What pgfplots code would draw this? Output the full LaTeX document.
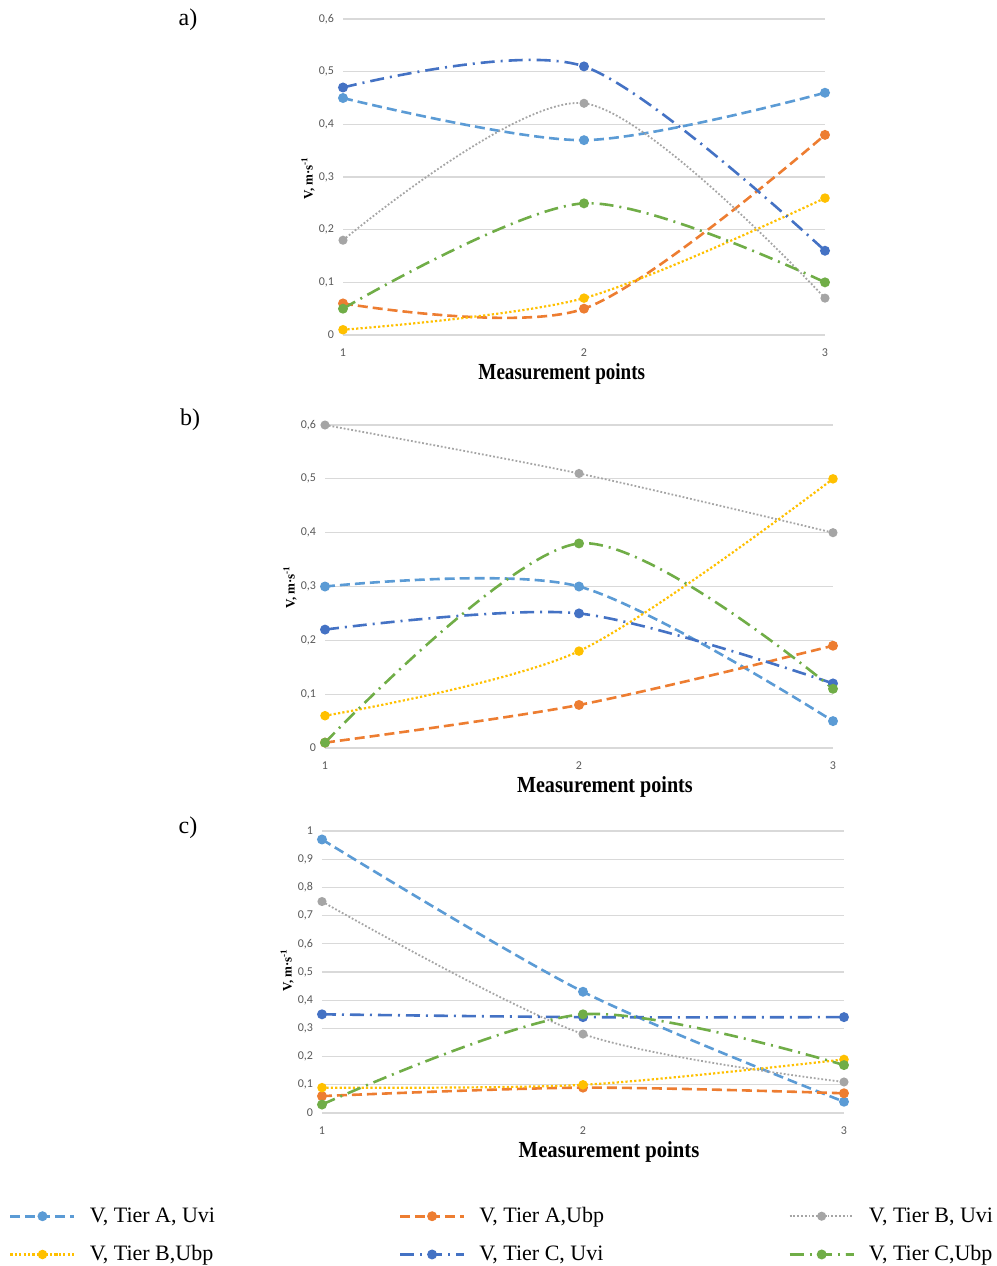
\documentclass[border=0pt]{standalone}
\usepackage{fontspec}
\setmainfont{Liberation Serif}
\newfontfamily\tickfont{Carlito}
\usepackage{graphicx}
\usepackage{pgfplots}
\pgfplotsset{compat=1.18}
\definecolor{cAU}{HTML}{5B9BD5}
\definecolor{cAB}{HTML}{ED7D31}
\definecolor{cBU}{HTML}{A5A5A5}
\definecolor{cBB}{HTML}{FFC000}
\definecolor{cCU}{HTML}{4472C4}
\definecolor{cCB}{HTML}{70AD47}
\pgfplotsset{
  panel/.style={
    scale only axis, clip=false,
    xmin=1, xmax=3, ymin=0, xtick={1,2,3},
    ymajorgrids, grid style={draw=black!15, line width=0.6pt},
    axis line style={draw=none}, tick style={draw=none},
    ticklabel style={font=\tickfont\fontsize{6}{7}\selectfont, text=black!65},
    /pgf/number format/use comma,
    /pgf/number format/assume math mode=true,
    xticklabel style={yshift=-3.5pt},
    yticklabel style={xshift=-1pt},
    xlabel style={font=\bfseries\fontsize{11.5}{12}\selectfont, anchor=center, yshift=-19.5pt},
    ylabel={V, m·s\textsuperscript{-1}},
    ylabel style={font=\bfseries\fontsize{6.5}{7}\selectfont, anchor=center},
    legend image code/.code={\draw[##1, mark repeat=2, mark phase=2] plot coordinates {(0pt,0pt) (16pt,0pt) (32pt,0pt)};},
  },
  sAU/.style={color=cAU, line width=1.3pt, dash pattern=on 5pt off 2.5pt, smooth, mark=*, mark size=1.8pt, mark options={solid}},
  sAB/.style={color=cAB, line width=1.3pt, dash pattern=on 5pt off 2.5pt, smooth, mark=*, mark size=1.8pt, mark options={solid}},
  sBU/.style={color=cBU, line width=0.9pt, dash pattern=on 0.9pt off 1pt, smooth, mark=*, mark size=1.8pt, mark options={solid}},
  sBB/.style={color=cBB, line width=1.1pt, dash pattern=on 1.1pt off 1.1pt, smooth, mark=*, mark size=1.8pt, mark options={solid}},
  sCU/.style={color=cCU, line width=1.3pt, dash pattern=on 7pt off 3pt on 1pt off 3pt, smooth, mark=*, mark size=1.8pt, mark options={solid}},
  sCB/.style={color=cCB, line width=1.3pt, dash pattern=on 7pt off 3pt on 1pt off 3pt, smooth, mark=*, mark size=1.8pt, mark options={solid}},
}
\begin{document}
\begin{tikzpicture}
\path[use as bounding box] (0,0) rectangle (498.5pt,-633pt);
\node[font=\fontsize{12}{13}\selectfont] at (94pt,-10pt) {a)};
\node[font=\fontsize{12}{13}\selectfont] at (95pt,-210pt) {b)};
\node[font=\fontsize{12}{13}\selectfont] at (94pt,-414pt) {c)};

% panel a
\begin{axis}[panel, at={(171.5pt,-167.5pt)}, anchor=south west, width=241pt, height=158pt,
  ymax=0.6, ytick={0,0.1,0.2,0.3,0.4,0.5,0.6},
  xlabel={\scalebox{0.83}[1]{Measurement points}},
  xlabel style={at={(axis description cs:0.454,0)}},
  ylabel style={at={(axis description cs:-0.0726,0.497)}}]
\addplot[sAU] coordinates {(1,0.45) (2,0.37) (3,0.46)};
\addplot[sAB] coordinates {(1,0.06) (2,0.05) (3,0.38)};
\addplot[sBU] coordinates {(1,0.18) (2,0.44) (3,0.07)};
\addplot[sBB] coordinates {(1,0.01) (2,0.07) (3,0.26)};
\addplot[sCU] coordinates {(1,0.47) (2,0.51) (3,0.16)};
\addplot[sCB] coordinates {(1,0.05) (2,0.25) (3,0.10)};
\end{axis}

% panel b
\begin{axis}[panel, at={(162.5pt,-374pt)}, anchor=south west, width=254pt, height=161.5pt,
  ymax=0.6, ytick={0,0.1,0.2,0.3,0.4,0.5,0.6},
  xlabel={\scalebox{0.875}[1]{Measurement points}},
  xlabel style={at={(axis description cs:0.551,0)}},
  ylabel style={at={(axis description cs:-0.0689,0.498)}}]
\addplot[sAU] coordinates {(1,0.30) (2,0.30) (3,0.05)};
\addplot[sAB] coordinates {(1,0.01) (2,0.08) (3,0.19)};
\addplot[sBU] coordinates {(1,0.60) (2,0.51) (3,0.40)};
\addplot[sBB] coordinates {(1,0.06) (2,0.18) (3,0.50)};
\addplot[sCU] coordinates {(1,0.22) (2,0.25) (3,0.12)};
\addplot[sCB] coordinates {(1,0.01) (2,0.38) (3,0.11)};
\end{axis}

% panel c
\begin{axis}[panel, at={(161pt,-556.5pt)}, anchor=south west, width=261pt, height=141pt,
  ymax=1, ytick={0,0.1,0.2,0.3,0.4,0.5,0.6,0.7,0.8,0.9,1},
  xlabel={\scalebox{0.9}[1]{Measurement points}},
  xlabel style={at={(axis description cs:0.55,0)}},
  ylabel style={at={(axis description cs:-0.067,0.507)}},
  legend columns=3,
  legend style={at={(rel axis cs:-0.60,-0.318)}, anchor=north west, draw=none, fill=none,
    font=\fontsize{11}{12}\selectfont, inner sep=0pt,
    cells={anchor=west}, row sep=6pt}]
\addplot[sAU] coordinates {(1,0.97) (2,0.43) (3,0.04)};
\addlegendentry{\makebox[157.5pt][l]{\hspace{5pt}V, Tier A, Uvi}}
\addplot[sAB] coordinates {(1,0.06) (2,0.09) (3,0.07)};
\addlegendentry{\makebox[157.5pt][l]{\hspace{5pt}V, Tier A,Ubp}}
\addplot[sBU] coordinates {(1,0.75) (2,0.28) (3,0.11)};
\addlegendentry{\hspace{5pt}V, Tier B, Uvi}
\addplot[sBB] coordinates {(1,0.09) (2,0.10) (3,0.19)};
\addlegendentry{\makebox[157.5pt][l]{\hspace{5pt}V, Tier B,Ubp}}
\addplot[sCU] coordinates {(1,0.35) (2,0.34) (3,0.34)};
\addlegendentry{\makebox[157.5pt][l]{\hspace{5pt}V, Tier C, Uvi}}
\addplot[sCB] coordinates {(1,0.03) (2,0.35) (3,0.17)};
\addlegendentry{\hspace{5pt}V, Tier C,Ubp}
\end{axis}
\end{tikzpicture}
\end{document}
